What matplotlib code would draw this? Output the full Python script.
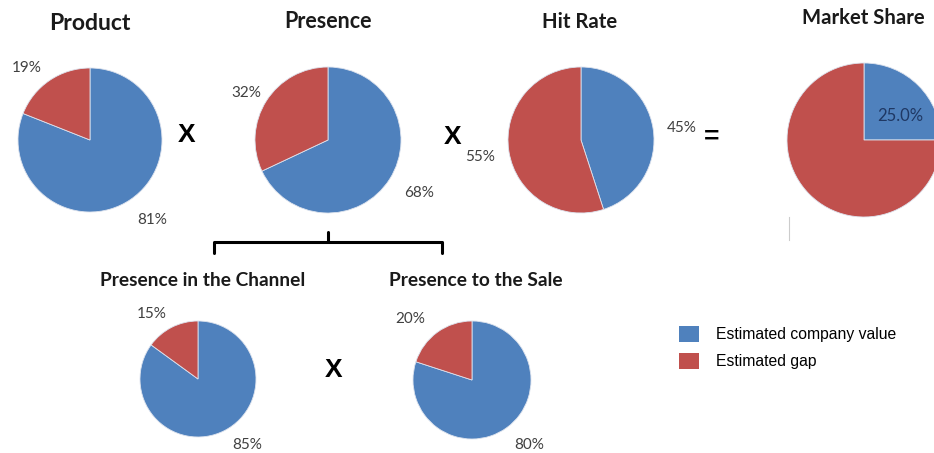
import matplotlib.pyplot as plt
from matplotlib.patches import Patch

# data
titles = ["Product", "Presence", "Hit Rate", "Market Share",
          "Presence in the Channel", "Presence to the Sale"]
company_value = [81, 68, 45, 25, 85, 80]
gap = [19, 32, 55, 75, 15, 20]
legend_labels = ["Estimated company value", "Estimated gap"]

BLUE = '#4F81BD'
RED = '#C0504D'
TXT = '#404040'

W, H = 934, 453

# layout in pixels (top-left origin)
centers = [(90, 140), (328, 140), (581, 140), (864, 140), (198, 379), (472, 380)]
radii = [72, 73, 73, 77, 58, 59]
title_pos = [(90, 23), (328, 22), (580, 22), (863, 18), (203, 280), (476, 280)]
title_size = [16.5, 15.5, 14.6, 14.6, 13.8, 13.8]
value_pos = [(152, 220), (419, 193), (682, 128), (900, 116), (247, 445), (529, 445)]
gap_pos = [(27, 68), (246, 93), (480, 157), None, (152, 314), (410, 319)]


def py(y):
    return H - y


fig = plt.figure(figsize=(W / 100, H / 100), dpi=100)
ax = fig.add_axes([0, 0, 1, 1])

for i in range(len(titles)):
    cx, cy = centers[i]
    ax.pie([company_value[i], gap[i]], colors=[BLUE, RED], startangle=90,
           counterclock=False, center=(cx, py(cy)), radius=radii[i],
           wedgeprops=dict(linewidth=0.6, edgecolor='#dde3ee'))
    tx, ty = title_pos[i]
    ax.text(tx, py(ty), titles[i], ha='center', va='center', fontsize=title_size[i],
            fontweight='bold', family='Lato', color='#1a1a1a')
    vx, vy = value_pos[i]
    if i == 3:
        ax.text(vx, py(vy), f"{company_value[i]:.1f}%", ha='center', va='center',
                fontsize=12, family='Lato', color='#1F3864')
    else:
        ax.text(vx, py(vy), f"{company_value[i]}%", ha='center', va='center',
                fontsize=11, family='Lato', color=TXT)
    if gap_pos[i] is not None:
        gx, gy = gap_pos[i]
        ax.text(gx, py(gy), f"{gap[i]}%", ha='center', va='center',
                fontsize=11, family='Lato', color=TXT)

# operators
for s, x, y in [("X", 187, 135), ("X", 453, 137), ("=", 712, 137), ("X", 334, 370)]:
    ax.text(x, py(y), s, ha='center', va='center', fontsize=19, fontweight='bold',
            family='Liberation Sans', color='black')

# bracket
ax.plot([214, 214, 442, 442], [py(253), py(242), py(242), py(253)], color='black',
        lw=2.2, solid_capstyle='round', solid_joinstyle='round')
ax.plot([328, 328], [py(242), py(232)], color='black', lw=2.2, solid_capstyle='round')

# small stray line near market share
ax.plot([789, 789], [py(217), py(240)], color='#cccccc', lw=0.8)

ax.set_xlim(0, W)
ax.set_ylim(0, H)
ax.set_aspect('equal')
ax.axis('off')

handles = [Patch(facecolor=BLUE), Patch(facecolor=RED)]
ax.legend(handles, legend_labels, loc='upper left', bbox_to_anchor=(666 / W, 1 - 313 / H),
          frameon=False, handlelength=1.3, handleheight=1.2,
          handletextpad=1.1, labelspacing=0.7, borderpad=0.3,
          prop={'family': 'Liberation Sans', 'size': 11.3})

fig.savefig('out.png', dpi=100)
